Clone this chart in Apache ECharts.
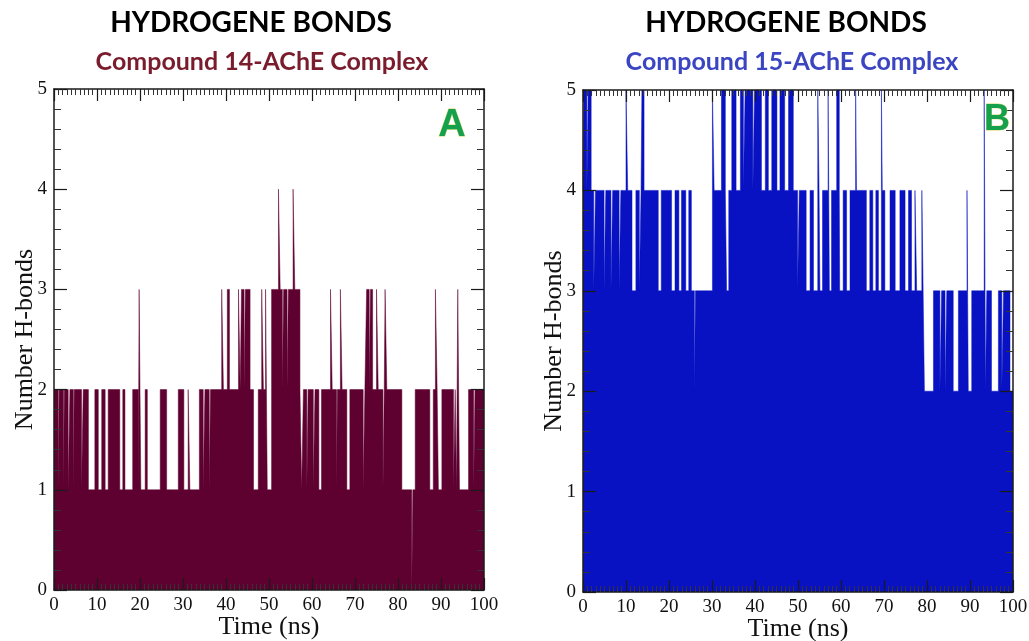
<!DOCTYPE html>
<html>
<head>
<meta charset="utf-8">
<script src="https://cdn.jsdelivr.net/npm/echarts@6/dist/echarts.min.js"></script>
<style>
html,body{margin:0;padding:0;background:#fff;}
#chart{width:1029px;height:641px;}
</style>
</head>
<body>
<div id="chart"></div>
<script>
// ---------- DATA ----------
const xTicks = [0, 10, 20, 30, 40, 50, 60, 70, 80, 90, 100];
const yTicks = [0, 1, 2, 3, 4, 5];

// Panel A : Compound 14-AChE complex
const aBaseLevel = 1;
const aLevel2Runs = [[0.0,1.0],[1.2,2.2],[2.4,3.3],[3.7,4.5],[4.7,6.4],[6.8,8.0],[9.5,10.3],[11.1,11.9],[12.6,15.3],[16.0,16.5],[18.3,19.6],[21.2,21.7],[24.7,26.2],[28.9,30.2],[31.2,31.6],[33.8,34.7],[35.1,36.1],[36.4,46.4],[47.5,49.5],[50.6,57.6],[58.0,58.8],[59.1,60.3],[60.7,61.6],[62.2,65.7],[65.9,68.1],[68.8,71.9],[72.3,76.5],[76.8,80.9],[84.0,87.4],[88.2,89.4],[90.2,92.9],[93.3,93.6],[96.4,97.6],[97.9,100]];
const aLevel3Runs = [[19.8,20.2],[39.0,39.4],[40.3,40.8],[42.9,43.3],[43.6,44.2],[44.5,45.6],[48.3,48.7],[49.2,49.6],[50.6,53.1],[53.4,54.2],[54.5,57.2],[64.3,64.7],[66.6,67.0],[72.7,73.3],[73.6,74.1],[75.0,75.4],[77.0,77.4],[88.7,89.1],[93.9,94.3]];
const aLevel4Runs = [[52.2,52.6],[55.6,56.0]];
const aDips = [[83.2,83.45,0]];

// Panel B : Compound 15-AChE complex
const bBaseLevel = 2;
const bLevel3Runs = [[0,79.4],[81.5,83.0],[83.4,84.2],[84.6,86.1],[87.3,89.6],[90.4,93.5],[93.9,95.0],[96.6,97.4],[97.8,99.3]];
const bLevel4Runs = [[0.0,2.5],[2.9,4.9],[5.3,6.5],[6.9,8.4],[8.8,11.4],[12.3,13.1],[13.5,17.5],[18.2,20.6],[21.4,22.3],[22.9,23.9],[24.6,25.2],[30.2,33.4],[33.9,49.9],[50.3,51.9],[52.8,53.6],[54.7,55.1],[55.7,57.0],[57.8,59.7],[60.5,61.3],[62.1,65.9],[66.7,67.4],[68.1,68.7],[69.5,70.2],[71.4,72.6],[73.7,74.9],[75.7,76.4],[77.2,77.6],[78.8,79.1],[89.3,89.6]];
const bLevel5Runs = [[0.2,0.9],[1.2,1.9],[10.0,10.4],[13.7,14.2],[30.1,30.5],[32.2,33.1],[34.6,35.6],[36.6,37.3],[37.7,39.5],[39.9,41.5],[42.4,43.1],[43.9,45.1],[45.8,46.9],[47.8,48.9],[54.6,54.9],[57.0,57.3],[59.0,59.6],[63.4,63.6],[69.4,69.6],[93.3,93.6]];
const bDips = [[25.9,26.15,2]];

// ---------- build step series from the read runs ----------
function buildSteps(base, layers, dips) {
  const cuts = new Set([0, 100]);
  layers.forEach(l => l.runs.forEach(r => { cuts.add(r[0]); cuts.add(r[1]); }));
  dips.forEach(d => { cuts.add(d[0]); cuts.add(d[1]); });
  const xs = [...cuts].filter(v => v >= 0 && v <= 100).sort((a, b) => a - b);
  const pts = [];
  for (let i = 0; i < xs.length - 1; i++) {
    const m = (xs[i] + xs[i + 1]) / 2;
    let v = base;
    layers.forEach(l => { if (l.runs.some(r => m > r[0] && m < r[1])) v = Math.max(v, l.level); });
    dips.forEach(d => { if (m > d[0] && m < d[1]) v = Math.min(v, d[2]); });
    pts.push([xs[i], v]);
  }
  pts.push([100, pts[pts.length - 1][1]]);
  return pts;
}

const seriesA = buildSteps(aBaseLevel, [{level:2, runs:aLevel2Runs},{level:3, runs:aLevel3Runs},{level:4, runs:aLevel4Runs}], aDips);
const seriesB = buildSteps(bBaseLevel, [{level:3, runs:bLevel3Runs},{level:4, runs:bLevel4Runs},{level:5, runs:bLevel5Runs}], bDips);

// ---------- chart ----------
const SERIF = '"Liberation Serif","DejaVu Serif",serif';
const frame = {lineStyle:{color:'#1a1a1a', width:1.5}};

function xAx(grid, pos, labels) {
  return {
    gridIndex: grid, type: 'value', position: pos, min: 0, max: 100, interval: 10, z: 5,
    axisLine: Object.assign({show:true, onZero:false}, frame),
    axisTick: {show:true, inside:true, length:12, lineStyle:{color:'#1a1a1a', width:1.2}},
    minorTick: {show:true, splitNumber:10, length:6, lineStyle:{color:'#333', width:1}},
    splitLine: {show:false},
    axisLabel: {show:labels, fontFamily:SERIF, fontSize:19, color:'#111', margin:6,
      formatter: v => xTicks.includes(v) ? String(v) : ''},
    name: labels ? 'Time (ns)' : '', nameLocation:'middle', nameGap:24, nameMoveOverlap:false,
    nameTextStyle: {fontFamily:SERIF, fontSize:26, color:'#111', verticalAlign:'top'}
  };
}
function yAx(grid, pos, labels) {
  return {
    gridIndex: grid, type: 'value', position: pos, min: 0, max: 5, interval: 1, z: 5,
    axisLine: Object.assign({show:true, onZero:false}, frame),
    axisTick: {show:true, inside:true, length:13, lineStyle:{color:'#1a1a1a', width:1.2}},
    minorTick: {show:true, splitNumber:5, length:7, lineStyle:{color:'#333', width:1}},
    splitLine: {show:false},
    axisLabel: {show:labels, fontFamily:SERIF, fontSize:19, color:'#111', margin:7,
      formatter: v => yTicks.includes(v) ? String(v) : ''},
    name: labels ? 'Number H-bonds' : '', nameLocation:'middle', nameGap:16, nameMoveOverlap:false,
    nameTextStyle: {fontFamily:SERIF, fontSize:26, color:'#111'}
  };
}
function stepSeries(data, xi, yi, color) {
  return {
    type:'line', data:data, xAxisIndex:xi, yAxisIndex:yi, step:'end',
    showSymbol:false, symbol:'none', clip:true, z:2,
    lineStyle:{color:color, width:0.5},
    areaStyle:{color:color, opacity:1, origin:'start'}
  };
}

const chart = echarts.init(document.getElementById('chart'), null, {renderer:'canvas'});
chart.setOption({
  animation:false,
  backgroundColor:'#ffffff',
  grid:[
    {left:54, top:89, width:430, height:501, show:false, containLabel:false, outerBoundsMode:'none'},
    {left:583, top:90, width:430, height:502, show:false, containLabel:false, outerBoundsMode:'none'}
  ],
  xAxis:[xAx(0,'bottom',true), xAx(0,'top',false), xAx(1,'bottom',true), xAx(1,'top',false)],
  yAxis:[yAx(0,'left',true), yAx(0,'right',false), yAx(1,'left',true), yAx(1,'right',false)],
  series:[
    stepSeries(seriesA, 0, 0, '#5e0030'),
    stepSeries(seriesB, 2, 2, '#0812c2')
  ],
  graphic:[
    {type:'text', z:10, style:{text:'HYDROGENE BONDS', x:251, y:23, textAlign:'center', textVerticalAlign:'middle', font:'bold 28px Lato, "Open Sans", sans-serif', fill:'#000'}},
    {type:'text', z:10, style:{text:'Compound 14-AChE Complex', x:262, y:62, textAlign:'center', textVerticalAlign:'middle', font:'bold 25px Lato, "Open Sans", sans-serif', fill:'#7a1c2c'}},
    {type:'text', z:10, style:{text:'HYDROGENE BONDS', x:786, y:23, textAlign:'center', textVerticalAlign:'middle', font:'bold 28px Lato, "Open Sans", sans-serif', fill:'#000'}},
    {type:'text', z:10, style:{text:'Compound 15-AChE Complex', x:792, y:62, textAlign:'center', textVerticalAlign:'middle', font:'bold 25px Lato, "Open Sans", sans-serif', fill:'#3b45c2'}},
    {type:'text', z:10, style:{text:'A', x:452, y:126, textAlign:'center', textVerticalAlign:'middle', font:'bold 38px "Liberation Sans", Arial, sans-serif', fill:'#14a04c', stroke:'#d6d66a', lineWidth:0.8}},
    {type:'text', z:10, style:{text:'B', x:997, y:120, textAlign:'center', textVerticalAlign:'middle', font:'bold 36px "Liberation Sans", Arial, sans-serif', fill:'#14a04c', stroke:'#d6d66a', lineWidth:0.8}}
  ]
});
</script>
</body>
</html>
